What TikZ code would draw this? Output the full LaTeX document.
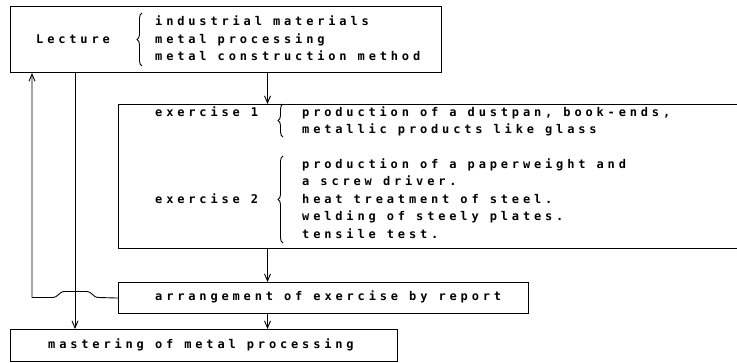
\documentclass[tikz,border=0pt]{standalone}
\usepackage{fontspec}
\setmonofont{DejaVu Sans Mono}[LetterSpace=32]
\usetikzlibrary{arrows.meta,decorations.pathreplacing,calc}
\begin{document}
\begin{tikzpicture}[x=1pt,y=-1pt,
  box/.style={draw, line width=1.1pt, inner sep=0pt, anchor=north west},
  txt/.style={inner sep=0pt, anchor=west, text height=6pt, text depth=0pt, font=\ttfamily\bfseries\fontsize{12}{14}\selectfont},
  conn/.style={line width=0.9pt},
  arr/.style={conn, -{Straight Barb[length=7pt,width=6pt]}},
  brc/.style={line width=0.9pt, decorate, decoration={brace, amplitude=5pt}}]
\useasboundingbox (0,0) rectangle (737,362);
% boxes
\node[box, minimum width=431pt, minimum height=66pt] (lec) at (10,6) {};
\node[box, minimum width=627pt, minimum height=144pt] (ex) at (118,104) {};
\node[box, minimum width=410pt, minimum height=31pt] (arrg) at (118,282) {};
\node[box, minimum width=387pt, minimum height=32pt] (mast) at (10,329) {};
% texts
\node[txt] (tlec) at (36,40) {Lecture};
\node[txt] (l1) at (155,22) {industrial materials};
\node[txt] (l2) at (155,40) {metal processing};
\node[txt] (l3) at (155,57) {metal construction method};
\node[txt] (te1) at (155,113) {exercise 1};
\node[txt] (e11) at (302,113) {production of a dustpan, book-ends,};
\node[txt] (e12) at (302,130) {metallic products like glass};
\node[txt] (te2) at (155,200) {exercise 2};
\node[txt] (e21) at (302,165) {production of a paperweight and};
\node[txt] (e22) at (302,182.5) {a screw driver.};
\node[txt] (e23) at (302,200) {heat treatment of steel.};
\node[txt] (e24) at (302,217.5) {welding of steely plates.};
\node[txt] (e25) at (302,235) {tensile test.};
\node[txt] (tarr) at (155,297.5) {arrangement of exercise by report};
\node[txt] (tmast) at (48,345) {mastering of metal processing};
% braces
\draw[brc] (142,66) -- (142,13);
\draw[brc] (283,137) -- (283,104);
\draw[brc] (283,243) -- (283,156);
% connectors
\coordinate (cx) at (267.5,0);
\coordinate (lx) at (75,0);
\coordinate (bx) at (32,0);
\draw[arr] (lec.south -| cx) -- (ex.north -| cx);
\draw[arr] (ex.south -| cx) -- (arrg.north -| cx);
\draw[arr] (arrg.south -| cx) -- (mast.north -| cx);
\draw[arr] (lec.south -| lx) -- (mast.north -| lx);
\draw[arr] (arrg.west) -- (99,297.5) .. controls (92,297.5) and (93,291.5) .. (86,291.5)
  -- (65,291.5) .. controls (58,291.5) and (59,297.5) .. (52,297.5)
  -- (32,297.5) -- (lec.south -| bx);
\end{tikzpicture}
\end{document}
